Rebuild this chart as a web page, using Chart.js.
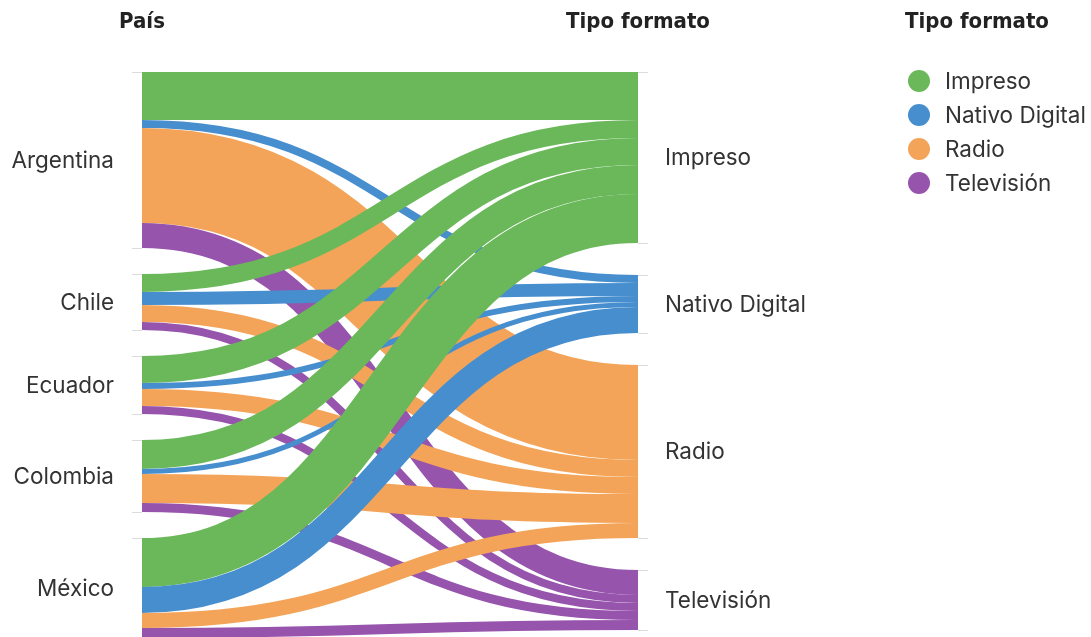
<!DOCTYPE html>
<html>
<head>
<meta charset="utf-8">
<script src="https://cdn.jsdelivr.net/npm/chart.js@4/dist/chart.umd.min.js"></script>
<style>
  html, body { margin: 0; padding: 0; background: #ffffff; }
  #wrap { width: 1091px; height: 637px; position: relative; }
</style>
</head>
<body>
<div id="wrap"><canvas id="c"></canvas></div>
<script>
// ---- data ----
const countries = ['Argentina', 'Chile', 'Ecuador', 'Colombia', 'México'];
const formats = ['Impreso', 'Nativo Digital', 'Radio', 'Televisión'];
const impreso = [48, 18, 27, 29, 49];
const nativoDigital = [8, 13, 6, 5, 26];
const radio = [95, 17, 17, 29, 15];
const television = [25, 8, 8, 9, 10];
const formatColors = ['#6ab85a', '#478ece', '#f4a458', '#9654ac'];
const leftTitle = 'País';
const rightTitle = 'Tipo formato';
const legendTitle = 'Tipo formato';

const flowsByFormat = [impreso, nativoDigital, radio, television];

// ---- style / layout ----
const LEFT_PAD = 26;   // node padding (value units) in country column
const RIGHT_PAD = 32;  // node padding in format column
const FONT = '"Inter", "Noto Sans", sans-serif';
const LABEL_FONT = '22.5px ' + FONT;
const TITLE_FONT = 'bold 22px "DejaVu Sans Condensed", "Liberation Sans Narrow", sans-serif';

function layout() {
  const left = [], right = [];
  let cur = 0;
  countries.forEach((c, i) => {
    const tot = flowsByFormat.reduce((s, arr) => s + arr[i], 0);
    left.push({ name: c, y0: cur, y1: cur + tot });
    cur += tot + LEFT_PAD;
  });
  cur = 0;
  formats.forEach((f, j) => {
    const tot = flowsByFormat[j].reduce((s, v) => s + v, 0);
    right.push({ name: f, y0: cur, y1: cur + tot });
    cur += tot + RIGHT_PAD;
  });
  const links = [];
  const srcOff = left.map(n => n.y0);
  countries.forEach((c, i) => {
    formats.forEach((f, j) => {
      const v = flowsByFormat[j][i];
      links.push({ i, j, v, sy: srcOff[i], ty: 0 });
      srcOff[i] += v;
    });
  });
  formats.forEach((f, j) => {
    let off = right[j].y0;
    countries.forEach((c, i) => {
      const l = links.find(k => k.i === i && k.j === j);
      l.ty = off;
      off += l.v;
    });
  });
  return { left, right, links };
}

const sankeyPlugin = {
  id: 'sankeyDraw',
  afterDatasetsDraw(chart) {
    const ctx = chart.ctx;
    const xs = chart.scales.x, ys = chart.scales.y;
    const { left, right, links } = layout();
    const x0 = xs.getPixelForValue(0), x1 = xs.getPixelForValue(1);
    const mx = (x0 + x1) / 2;
    const unit = Math.abs(ys.getPixelForValue(1) - ys.getPixelForValue(0));
    ctx.save();
    links.forEach(l => {
      const ya = ys.getPixelForValue(l.sy + l.v / 2);
      const yb = ys.getPixelForValue(l.ty + l.v / 2);
      ctx.beginPath();
      ctx.moveTo(x0, ya);
      ctx.bezierCurveTo(mx, ya, mx, yb, x1, yb);
      ctx.lineWidth = l.v * unit;
      ctx.strokeStyle = formatColors[l.j];
      ctx.lineCap = 'butt';
      ctx.stroke();
    });
    ctx.strokeStyle = '#dcdcdc';
    ctx.lineWidth = 1;
    left.forEach(n => {
      [n.y0, n.y1].forEach(v => {
        const yy = Math.round(ys.getPixelForValue(v)) + 0.5;
        ctx.beginPath(); ctx.moveTo(x0 - 10, yy); ctx.lineTo(x0, yy); ctx.stroke();
      });
    });
    right.forEach(n => {
      [n.y0, n.y1].forEach(v => {
        const yy = Math.round(ys.getPixelForValue(v)) + 0.5;
        ctx.beginPath(); ctx.moveTo(x1, yy); ctx.lineTo(x1 + 10, yy); ctx.stroke();
      });
    });
    ctx.fillStyle = '#333333';
    ctx.font = LABEL_FONT;
    ctx.textBaseline = 'middle';
    ctx.textAlign = 'right';
    left.forEach(n => {
      ctx.fillText(n.name, x0 - 28, ys.getPixelForValue((n.y0 + n.y1) / 2) + 1);
    });
    ctx.textAlign = 'left';
    right.forEach(n => {
      ctx.fillText(n.name, x1 + 27, ys.getPixelForValue((n.y0 + n.y1) / 2) + 1);
    });
    ctx.fillStyle = '#222222';
    ctx.font = TITLE_FONT;
    ctx.textAlign = 'center';
    ctx.fillText(leftTitle, x0, 22);
    ctx.fillText(rightTitle, x1, 22);
    ctx.textAlign = 'left';
    ctx.fillText(legendTitle, 905, 22);
    ctx.font = LABEL_FONT;
    formats.forEach((f, j) => {
      const cy = 81 + j * 34;
      ctx.beginPath();
      ctx.arc(919, cy, 11, 0, Math.PI * 2);
      ctx.fillStyle = formatColors[j];
      ctx.fill();
      ctx.fillStyle = '#333333';
      ctx.fillText(f, 945, cy + 1);
    });
    ctx.restore();
  }
};

new Chart(document.getElementById('c'), {
  type: 'scatter',
  data: { datasets: [{ data: [], showLine: false }] },
  options: {
    responsive: true,
    maintainAspectRatio: false,
    animation: false,
    layout: { padding: { left: 142, right: 453, top: 72, bottom: 0 } },
    plugins: { legend: { display: false }, tooltip: { enabled: false } },
    scales: {
      x: { type: 'linear', min: 0, max: 1, display: false },
      y: { type: 'linear', min: 0, max: 565, reverse: true, display: false }
    }
  },
  plugins: [sankeyPlugin]
});
</script>
</body>
</html>
